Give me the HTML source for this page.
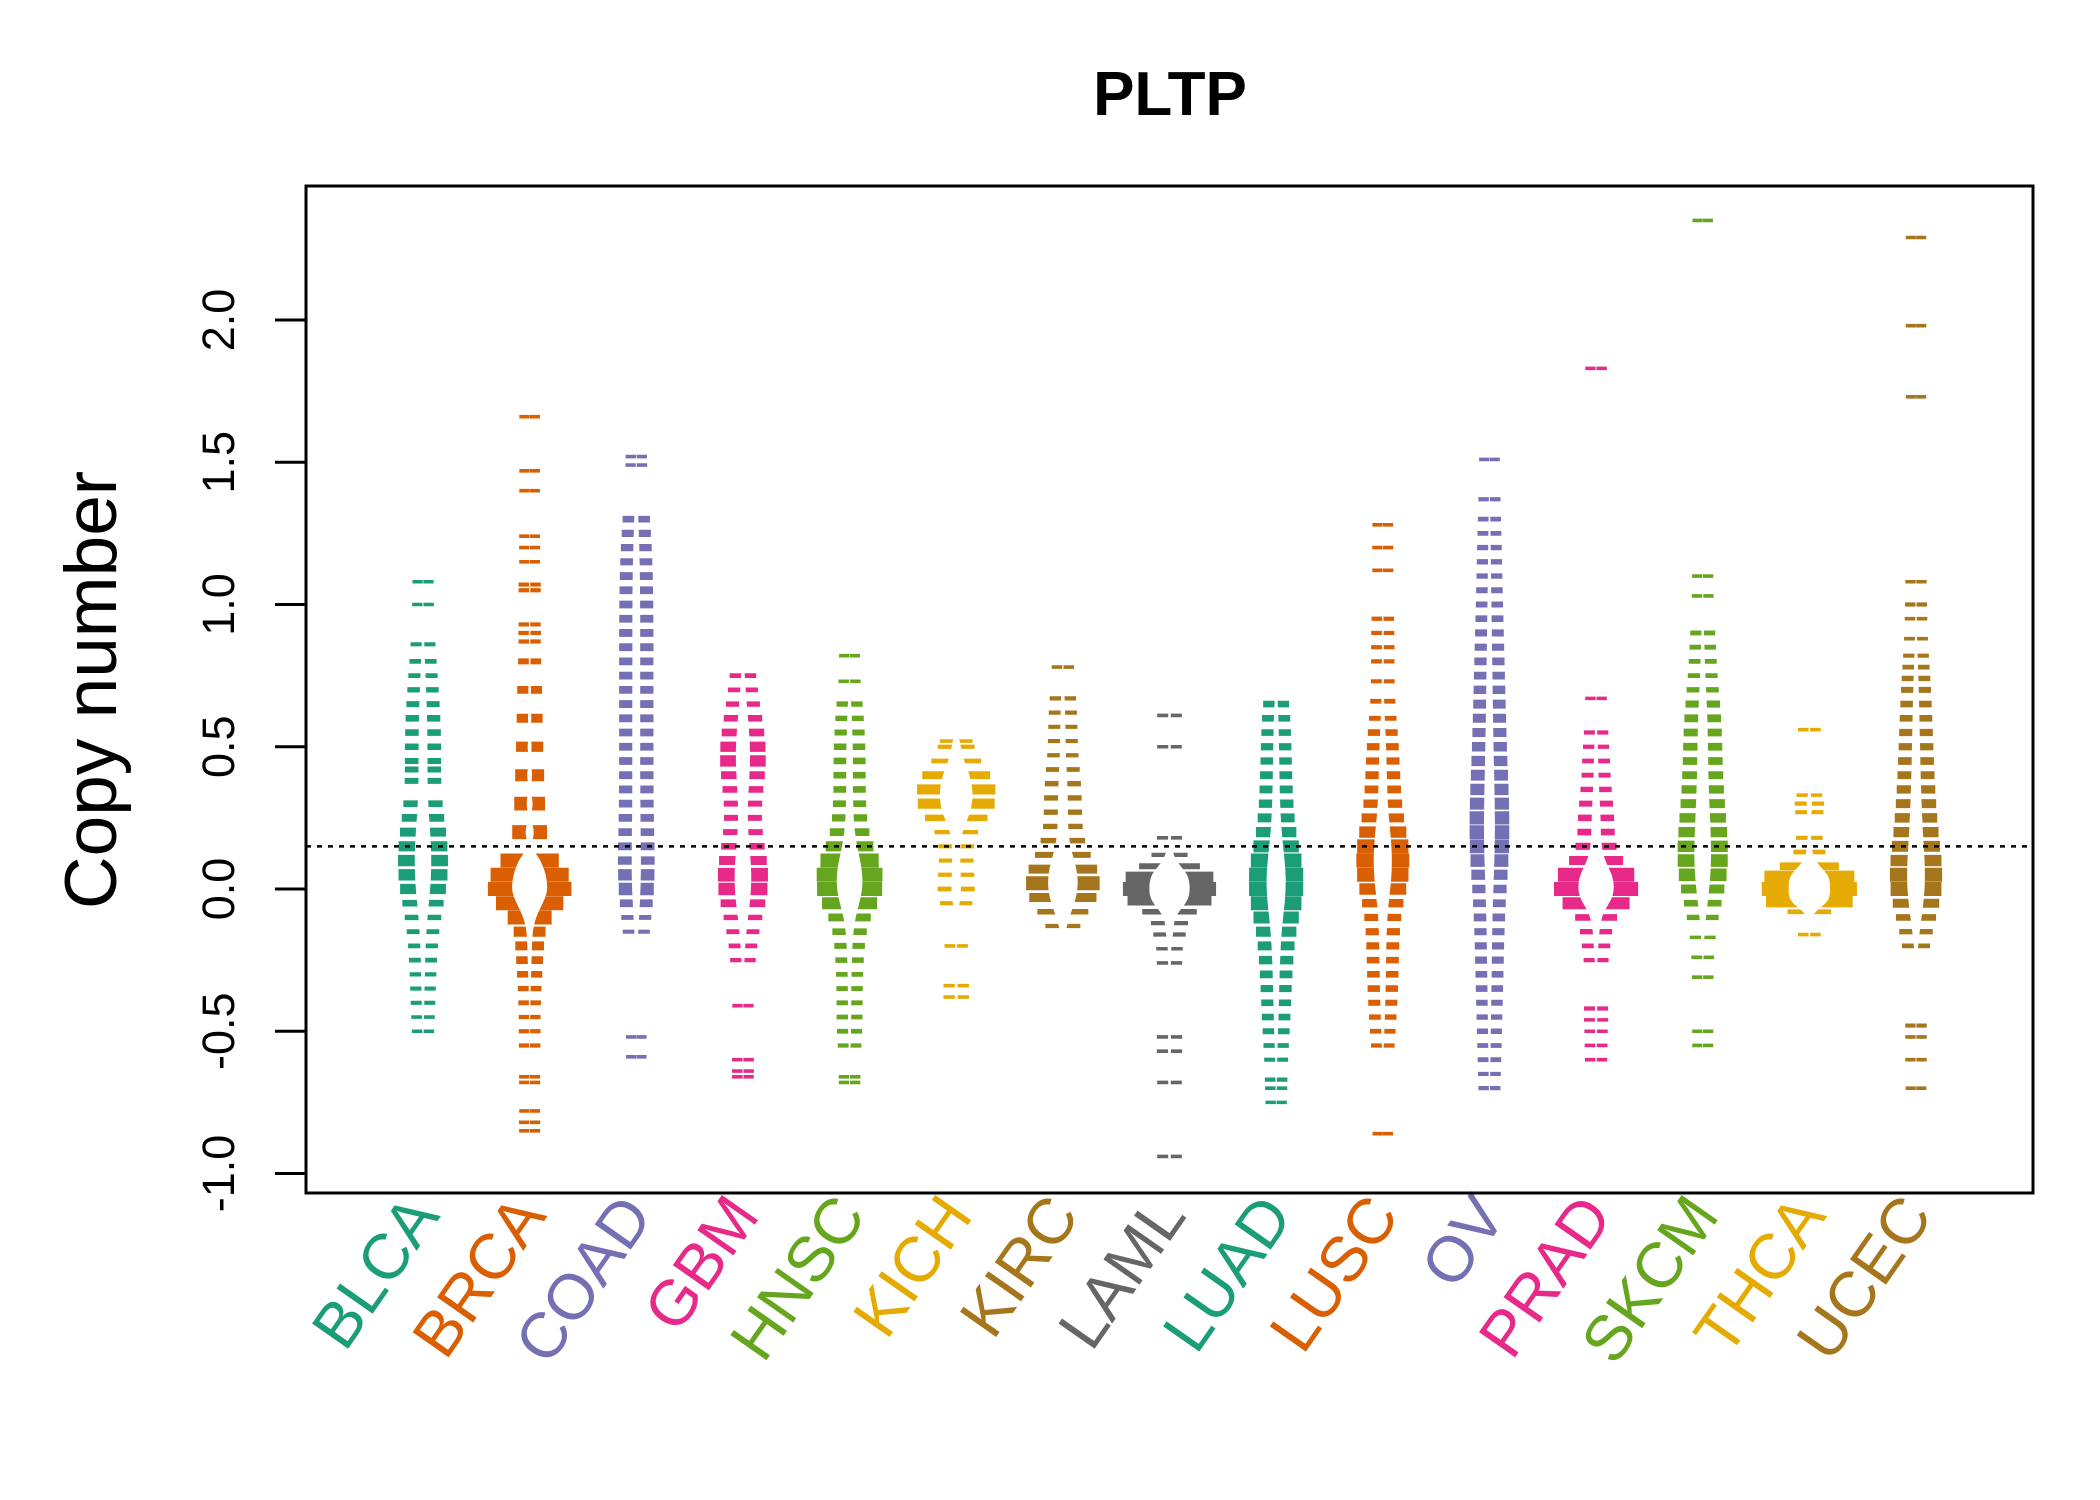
<!DOCTYPE html>
<html><head><meta charset="utf-8"><style>
html,body{margin:0;padding:0;background:#fff;}
svg{display:block;font-family:"Liberation Sans",Arial,sans-serif;}
</style></head><body>
<svg id="chart" width="2100" height="1500" viewBox="0 0 2100 1500" xmlns="http://www.w3.org/2000/svg">
<rect x="0" y="0" width="2100" height="1500" fill="#fff"/>
<text x="1170" y="115" text-anchor="middle" font-size="62" font-weight="bold">PLTP</text>
<text transform="translate(116,690) rotate(-90)" text-anchor="middle" font-size="73">Copy number</text>
<g id="beans"></g>
<g id="yaxis"></g>
<g id="xlabels"></g>
<rect x="306" y="186" width="1727" height="1007" fill="none" stroke="#000" stroke-width="3"/>
</svg>
<script>
const categories = ["BLCA","BRCA","COAD","GBM","HNSC","KICH","KIRC","LAML","LUAD","LUSC","OV","PRAD","SKCM","THCA","UCEC"];
const colors = ["#1B9E77","#D95F02","#7570B3","#E7298A","#66A61E","#E6AB02","#A6761D","#666666","#1B9E77","#D95F02","#7570B3","#E7298A","#66A61E","#E6AB02","#A6761D"];
const yTicks = [-1.0,-0.5,0.0,0.5,1.0,1.5,2.0];
const yTickLabels = ["-1.0","-0.5","0.0","0.5","1.0","1.5","2.0"];
const refLine = 0.15;
const valsBLCA = [1.08,1.0,0.86,0.8,0.75,0.7,0.65,0.6,0.55,0.5,0.45,0.42,0.38,0.3,0.25,0.2,0.15,0.1,0.05,0.0,-0.05,-0.1,-0.15,-0.2,-0.25,-0.3,-0.35,-0.4,-0.45,-0.5];
const cntsBLCA = [1,1,2,3,3,4,5,6,6,6,5,5,5,6,8,10,12,14,14,12,6,4,3,3,3,2,2,2,1,1];
const valsBRCA = [1.66,1.47,1.4,1.24,1.2,1.15,1.07,1.05,0.93,0.9,0.87,0.8,0.7,0.6,0.5,0.4,0.3,0.2,0.1,0.05,0.0,-0.05,-0.1,-0.15,-0.2,-0.25,-0.3,-0.35,-0.4,-0.45,-0.5,-0.55,-0.66,-0.68,-0.78,-0.82,-0.85];
const cntsBRCA = [1,1,1,1,1,1,2,2,2,2,2,5,8,10,12,15,18,25,50,90,120,60,25,12,10,8,6,4,3,2,2,2,1,1,1,1,1];
const valsCOAD = [1.52,1.49,1.3,1.25,1.2,1.15,1.1,1.05,1.0,0.95,0.9,0.85,0.8,0.75,0.7,0.65,0.6,0.55,0.5,0.45,0.4,0.35,0.3,0.25,0.2,0.15,0.1,0.05,0.0,-0.05,-0.1,-0.15,-0.52,-0.59];
const cntsCOAD = [1,1,6,7,7,7,8,8,8,8,8,8,8,8,8,8,8,8,8,8,8,8,8,8,8,8,9,14,16,8,3,2,1,1];
const valsGBM = [0.75,0.7,0.65,0.6,0.55,0.5,0.45,0.4,0.35,0.3,0.25,0.2,0.15,0.1,0.05,0.0,-0.05,-0.1,-0.15,-0.2,-0.25,-0.41,-0.6,-0.64,-0.66];
const cntsGBM = [3,3,4,6,8,12,14,8,6,5,5,5,6,10,18,16,8,4,3,3,2,1,1,1,1];
const valsHNSC = [0.82,0.73,0.65,0.6,0.55,0.5,0.45,0.4,0.35,0.3,0.25,0.2,0.15,0.1,0.05,0.0,-0.05,-0.1,-0.15,-0.2,-0.25,-0.3,-0.35,-0.4,-0.45,-0.5,-0.55,-0.66,-0.68];
const cntsHNSC = [1,1,4,4,5,6,6,6,6,6,7,8,12,20,30,35,15,8,6,5,4,3,3,3,3,3,2,1,1];
const valsKICH = [0.52,0.5,0.45,0.4,0.35,0.3,0.25,0.2,0.15,0.1,0.05,0.0,-0.05,-0.2,-0.34,-0.38];
const cntsKICH = [1,2,3,8,12,12,6,2,2,2,2,3,2,1,1,1];
const valsKIRC = [0.78,0.67,0.62,0.57,0.52,0.47,0.42,0.37,0.32,0.27,0.22,0.17,0.12,0.07,0.02,-0.03,-0.08,-0.13];
const cntsKIRC = [1,2,2,2,2,2,3,4,4,4,4,4,5,10,30,10,4,2];
const valsLAML = [0.61,0.5,0.18,0.12,0.08,0.04,0.0,-0.04,-0.08,-0.12,-0.16,-0.21,-0.26,-0.52,-0.57,-0.68,-0.94];
const cntsLAML = [1,1,1,2,5,15,25,12,4,2,2,1,1,1,1,1,1];
const valsLUAD = [0.65,0.6,0.55,0.5,0.45,0.4,0.35,0.3,0.25,0.2,0.15,0.1,0.05,0.0,-0.05,-0.1,-0.15,-0.2,-0.25,-0.3,-0.35,-0.4,-0.45,-0.5,-0.55,-0.6,-0.67,-0.7,-0.75];
const cntsLUAD = [6,6,6,7,7,8,8,9,10,12,15,20,30,30,20,15,12,10,9,8,7,6,6,5,3,2,2,1,1];
const valsLUSC = [1.28,1.2,1.12,0.95,0.9,0.85,0.8,0.73,0.66,0.6,0.55,0.5,0.45,0.4,0.35,0.3,0.25,0.2,0.15,0.1,0.05,0.0,-0.05,-0.1,-0.15,-0.2,-0.25,-0.3,-0.35,-0.4,-0.45,-0.5,-0.55,-0.86];
const cntsLUSC = [1,1,1,2,2,2,2,2,3,3,6,7,7,8,8,9,10,14,20,22,22,14,9,7,7,7,6,6,6,5,4,3,2,1];
const valsOV = [1.51,1.37,1.3,1.25,1.2,1.15,1.1,1.05,1.0,0.95,0.9,0.85,0.8,0.75,0.7,0.65,0.6,0.55,0.5,0.45,0.4,0.35,0.3,0.25,0.2,0.15,0.1,0.05,0.0,-0.05,-0.1,-0.15,-0.2,-0.25,-0.3,-0.35,-0.4,-0.45,-0.5,-0.55,-0.6,-0.65,-0.7];
const cntsOV = [1,2,3,3,4,4,4,5,5,6,7,7,8,8,9,10,10,10,11,12,13,14,15,17,18,18,16,12,9,8,8,7,7,7,6,6,5,4,4,3,3,2,2];
const valsPRAD = [1.83,0.67,0.55,0.5,0.45,0.4,0.35,0.3,0.25,0.2,0.15,0.1,0.05,0.0,-0.05,-0.1,-0.15,-0.2,-0.25,-0.42,-0.46,-0.5,-0.55,-0.6];
const cntsPRAD = [1,1,2,2,3,3,4,5,6,6,7,10,25,45,15,6,4,3,2,2,1,1,1,1];
const valsSKCM = [2.35,1.1,1.03,0.9,0.85,0.8,0.75,0.7,0.65,0.6,0.55,0.5,0.45,0.4,0.35,0.3,0.25,0.2,0.15,0.1,0.05,0.0,-0.05,-0.1,-0.17,-0.24,-0.31,-0.5,-0.55];
const cntsSKCM = [1,1,1,3,3,3,3,4,7,8,8,8,8,8,9,10,11,12,14,16,16,10,6,4,1,1,1,1,1];
const valsTHCA = [0.56,0.33,0.3,0.27,0.18,0.13,0.08,0.04,0.0,-0.04,-0.08,-0.16];
const cntsTHCA = [1,1,2,2,2,3,8,25,60,20,3,1];
const valsUCEC = [2.29,1.98,1.73,1.08,1.0,0.95,0.88,0.82,0.78,0.74,0.7,0.65,0.6,0.55,0.5,0.45,0.4,0.35,0.3,0.25,0.2,0.15,0.1,0.05,0.0,-0.05,-0.1,-0.15,-0.2,-0.48,-0.52,-0.6,-0.7];
const cntsUCEC = [1,1,1,1,2,1,1,2,3,4,5,6,6,7,7,8,8,9,10,11,12,13,14,20,35,10,6,4,3,2,1,1,1];

const seriesVals = [valsBLCA,valsBRCA,valsCOAD,valsGBM,valsHNSC,valsKICH,valsKIRC,valsLAML,valsLUAD,valsLUSC,valsOV,valsPRAD,valsSKCM,valsTHCA,valsUCEC];
const seriesCnts = [cntsBLCA,cntsBRCA,cntsCOAD,cntsGBM,cntsHNSC,cntsKICH,cntsKIRC,cntsLAML,cntsLUAD,cntsLUSC,cntsOV,cntsPRAD,cntsSKCM,cntsTHCA,cntsUCEC];

const NS = "http://www.w3.org/2000/svg";
const plot = {left:306,right:2033,top:186,bottom:1193};
function xPos(i){ return 423 + i * (1916 - 423) / 14; }
function yScale(v){ return 889 - v * 284.5; }
function mk(tag, attrs, parent){ const e = document.createElementNS(NS, tag); for (const k in attrs) e.setAttribute(k, attrs[k]); parent.appendChild(e); return e; }

const yaxis = document.getElementById('yaxis');
yTicks.forEach((t, i) => {
  const y = yScale(t);
  const tk = mk('line', {x1:275, x2:306, y1:y, y2:y, stroke:'#000', 'stroke-width':3}, yaxis);
  
  
  const lb = mk('text', {transform:`translate(234,${y}) rotate(-90)`, 'text-anchor':'middle', 'font-size':45}, yaxis);
  lb.textContent = yTickLabels[i];
  
  
});

const beans = document.getElementById('beans');
function kde(vals, cnts){
  let n = 0, m = 0;
  vals.forEach((v, i) => { n += cnts[i]; m += v * cnts[i]; });
  m /= n;
  let s2 = 0; vals.forEach((v, i) => { s2 += cnts[i] * (v - m) * (v - m); });
  const sd = Math.sqrt(s2 / Math.max(1, n - 1));
  const pairs = vals.map((v, i) => [v, cnts[i]]).sort((a, b) => a[0] - b[0]);
  function q(p){ let acc = 0; for (const [v, c] of pairs){ acc += c; if (acc >= p * n) return v; } return pairs[pairs.length-1][0]; }
  const iqr = q(0.75) - q(0.25);
  let bw = 0.9 * Math.min(sd, iqr > 0 ? iqr / 1.34 : sd) * Math.pow(n, -0.2);
  bw = Math.max(bw, 0.025);
  return {bw, n, f: (y) => { let d = 0; vals.forEach((v, i) => { const z = (y - v) / bw; d += cnts[i] * Math.exp(-0.5 * z * z); }); return d / (n * bw * Math.sqrt(2 * Math.PI)); }};
}
const K = 11, CAP = 38;
function wFor(d){ return CAP * Math.tanh(K * d / CAP); }

categories.forEach((cat, ci) => {
  const vals = seriesVals[ci], cnts = seriesCnts[ci], col = colors[ci];
  const cx = xPos(ci);
  const g = mk('g', {}, beans);
  
  
  const dens = kde(vals, cnts);
  vals.forEach((v, i) => {
    const w = wFor(dens.f(v));
    const hw = 10 + w;
    const th = Math.min(14, 3 + cnts[i] * 0.6);
    const ln = mk('line', {x1:cx - hw, x2:cx + hw, y1:yScale(v), y2:yScale(v), stroke:col, 'stroke-width':th}, g);
    
    
  });
  const vmin = Math.min(...vals), vmax = Math.max(...vals);
  const lo = vmin - dens.bw, hi = vmax + dens.bw;
  const steps = 200, ptsL = [], ptsR = [];
  for (let s = 0; s <= steps; s++){
    const y = lo + (hi - lo) * s / steps;
    const w = 0.55 * wFor(dens.f(y));
    ptsR.push(`${(cx + w).toFixed(1)},${yScale(y).toFixed(1)}`);
    ptsL.unshift(`${(cx - w).toFixed(1)},${yScale(y).toFixed(1)}`);
  }
  const pg = mk('polygon', {points: ptsR.concat(ptsL).join(' '), fill:'#fff', stroke:'none'}, g);
  
  
});

const rl = mk('line', {x1:plot.left, x2:plot.right, y1:yScale(refLine), y2:yScale(refLine), stroke:'#000', 'stroke-width':2.5, 'stroke-dasharray':'5,6'}, beans);



const xl = document.getElementById('xlabels');
categories.forEach((cat, ci) => {
  const t = mk('text', {transform:`translate(${xPos(ci) + 18},${1216}) rotate(-55)`, 'text-anchor':'end', 'font-size':64, fill:colors[ci]}, xl);
  t.textContent = cat;
  
  
});
</script>
</body></html>
